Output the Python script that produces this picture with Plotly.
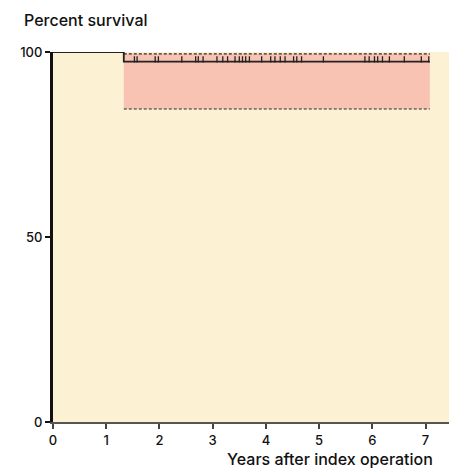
import plotly.graph_objects as go

# Kaplan-Meier estimate
step_x = [0, 1.33, 1.33, 7.08]
surv_y = [100, 100, 97.4, 97.4]
ci_x = [1.33, 7.08]
ci_upper = [99.5, 99.5]
ci_lower = [84.6, 84.6]
censor_x = [1.53, 1.58, 1.92, 1.98, 2.42, 2.68, 2.73, 2.82, 3.08, 3.19, 3.28, 3.42,
            3.50, 3.56, 3.62, 3.69, 3.92, 4.09, 4.17, 4.27, 4.36, 4.52, 4.58, 4.67,
            5.08, 5.86, 5.94, 6.04, 6.10, 6.19, 6.32, 6.60, 6.92, 7.06]
censor_y = 97.4
x_ticks = [0, 1, 2, 3, 4, 5, 6, 7]
y_ticks = [0, 50, 100]

FONT = "Inter, Liberation Sans, Arial, sans-serif"
fig = go.Figure()

# confidence band
fig.add_trace(go.Scatter(x=ci_x, y=ci_lower, mode="lines",
                         line=dict(color="#2a2a2a", width=1.2, dash="3px,2px"),
                         hoverinfo="skip", showlegend=False))
fig.add_trace(go.Scatter(x=ci_x, y=ci_upper, mode="lines", fill="tonexty",
                         fillcolor="#F9C3B3",
                         line=dict(color="#2a2a2a", width=1.2, dash="3px,2px"),
                         hoverinfo="skip", showlegend=False))
# survival curve
fig.add_trace(go.Scatter(x=step_x, y=surv_y, mode="lines",
                         line=dict(color="#222", width=1.8),
                         cliponaxis=False, hoverinfo="skip", showlegend=False))
# censor marks
fig.add_trace(go.Scatter(x=censor_x, y=[censor_y + 0.6] * len(censor_x), mode="markers",
                         marker=dict(symbol="line-ns", size=4.5,
                                     line=dict(color="#222", width=1.3)),
                         hoverinfo="skip", showlegend=False))

fig.update_layout(
    width=451, height=469,
    margin=dict(l=53, r=2, t=52, b=47),
    paper_bgcolor="white", plot_bgcolor="#FDF1D4",
    font=dict(family=FONT, size=13, color="#111", weight=500),
    xaxis=dict(range=[0, 7.44], tickvals=x_ticks, ticks="outside", ticklen=5,
               tickwidth=1.5, tickcolor="#444", showline=True, linecolor="#555",
               linewidth=2, showgrid=False, zeroline=False, fixedrange=True,
               tickfont=dict(size=13, weight=500)),
    yaxis=dict(range=[0, 100], tickvals=y_ticks, ticks="outside", ticklen=5,
               tickwidth=1.5, tickcolor="#111", showline=True, linecolor="#111",
               linewidth=3, showgrid=False, zeroline=False, fixedrange=True,
               tickfont=dict(size=13, weight=500)),
    annotations=[
        dict(text="Percent survival", x=(22 - 53) / (451 - 55), y=1 + (52 - 20) / (469 - 99),
             xref="paper", yref="paper",
             showarrow=False, xanchor="left", yanchor="middle",
             font=dict(size=16, color="#111", weight=500)),
        dict(text="Years after index operation", x=1, y=0, xref="paper", yref="paper",
             showarrow=False, xanchor="right", yanchor="top", yshift=-25, xshift=-14,
             font=dict(size=16, color="#111", weight=500)),
    ],
)
fig.write_html("out.html")
